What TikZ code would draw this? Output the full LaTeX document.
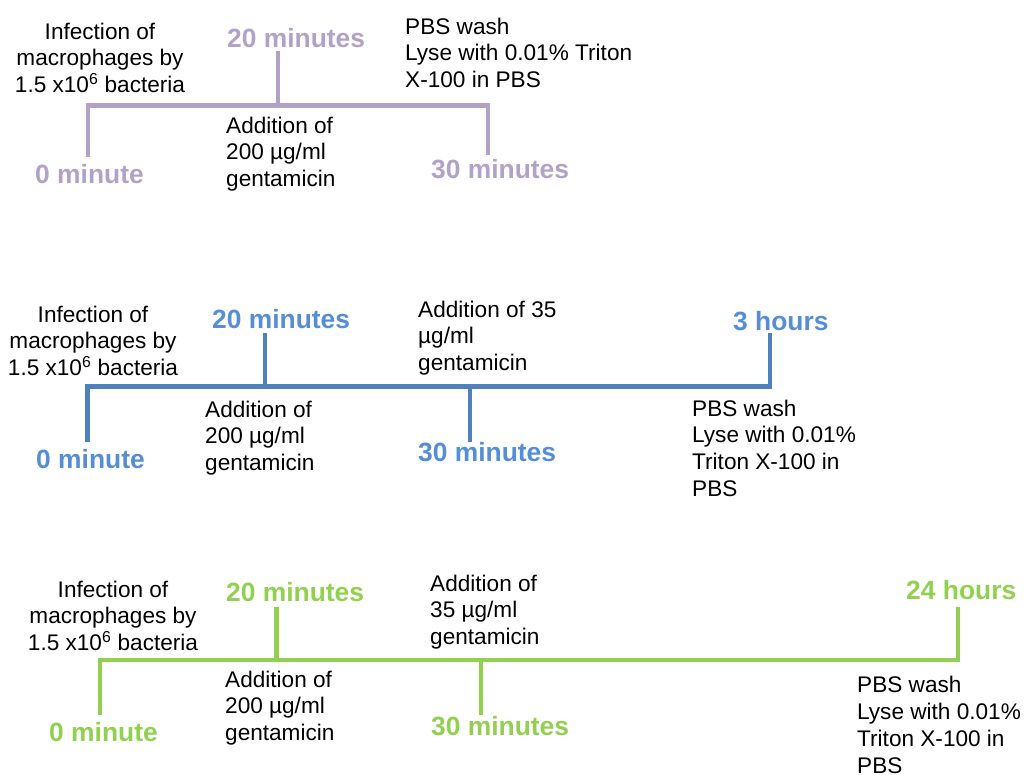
\documentclass[tikz,border=0pt]{standalone}
\usepackage{fontspec}
\setmainfont{Liberation Sans}
\definecolor{purp}{HTML}{B3A2C7}
\definecolor{bluet}{HTML}{558ED5}
\definecolor{bluel}{HTML}{4F81BD}
\definecolor{grn}{HTML}{92D050}
\tikzset{
  note/.style={font=\fontsize{22.6}{26.7}\selectfont, inner sep=0pt, align=left, anchor=base west},
  notec/.style={note, align=center, anchor=base},
  tlab/.style={font=\fontsize{26.4}{30}\selectfont\bfseries, inner sep=0pt, anchor=base west},
  tline/.style={line width=4.2pt, line join=miter}
}
\begin{document}
\begin{tikzpicture}[x=1pt,y=-1pt]
\path[fill=white, use as bounding box] (0,0) rectangle (1025,774);

% ---------- Timeline 1 (purple) ----------
\coordinate (t1a) at (88,157);
\coordinate (t1b) at (88,105.5);
\coordinate (t1c) at (488,105.5);
\coordinate (t1d) at (488,155);
\coordinate (t1m) at (278,51);
\coordinate (t1n) at (278,105.5);
\draw[tline, purp] (t1a) -- (t1b) -- (t1c) -- (t1d);
\draw[tline, purp] (t1m) -- (t1n);
% multi-line notes are placed by the baseline of their last line
\node[notec] (inf1) at (100,92.4) {Infection of\\macrophages by\\1.5 x10\textsuperscript{6} bacteria};
\node[tlab, text=purp] (m20a) at (227,47) {20 minutes};
\node[note] (pbs1) at (405,87.4) {PBS wash\\Lyse with 0.01\% Triton\\X-100 in PBS};
\node[note] (add1) at (226,186.4) {Addition of\\200 µg/ml\\gentamicin};
\node[tlab, text=purp] (m0a) at (35,183) {0 minute};
\node[tlab, text=purp] (m30a) at (431,178) {30 minutes};

% ---------- Timeline 2 (blue) ----------
\coordinate (t2a) at (87.5,442);
\coordinate (t2b) at (87.5,386.5);
\coordinate (t2c) at (770,386.5);
\coordinate (t2d) at (770,333);
\coordinate (t2m) at (265,333);
\coordinate (t2n) at (265,386.5);
\coordinate (t2p) at (470,386.5);
\coordinate (t2q) at (470,442);
\draw[tline, bluel] (t2a) -- (t2b) -- (t2c) -- (t2d);
\draw[tline, bluel] (t2m) -- (t2n);
\draw[tline, bluel] (t2p) -- (t2q);
\node[notec] (inf2) at (93,375.4) {Infection of\\macrophages by\\1.5 x10\textsuperscript{6} bacteria};
\node[tlab, text=bluet] (m20b) at (212,328) {20 minutes};
\node[note] (add35b) at (418,370.4) {Addition of 35\\µg/ml\\gentamicin};
\node[tlab, text=bluet] (h3) at (733,330) {3 hours};
\node[note] (add2) at (205,470.4) {Addition of\\200 µg/ml\\gentamicin};
\node[tlab, text=bluet] (m0b) at (36,468) {0 minute};
\node[tlab, text=bluet] (m30b) at (418,461) {30 minutes};
\node[note] (pbs2) at (692,496.1) {PBS wash\\Lyse with 0.01\%\\Triton X-100 in\\PBS};

% ---------- Timeline 3 (green) ----------
\coordinate (t3a) at (100,715);
\coordinate (t3b) at (100,660);
\coordinate (t3c) at (958,660);
\coordinate (t3d) at (958,607);
\coordinate (t3m) at (276.5,607);
\coordinate (t3n) at (276.5,660);
\coordinate (t3p) at (481,660);
\coordinate (t3q) at (481,715);
\draw[tline, grn] (t3a) -- (t3b) -- (t3c) -- (t3d);
\draw[tline, grn] (t3m) -- (t3n);
\draw[tline, grn] (t3p) -- (t3q);
\node[notec] (inf3) at (113,650.4) {Infection of\\macrophages by\\1.5 x10\textsuperscript{6} bacteria};
\node[tlab, text=grn] (m20c) at (226,601) {20 minutes};
\node[note] (add35c) at (430,644.4) {Addition of\\35 µg/ml\\gentamicin};
\node[tlab, text=grn] (h24) at (906,599) {24 hours};
\node[note] (add3) at (225,740.4) {Addition of\\200 µg/ml\\gentamicin};
\node[tlab, text=grn] (m0c) at (49,741) {0 minute};
\node[tlab, text=grn] (m30c) at (431,735) {30 minutes};
\node[note] (pbs3) at (857,773) {PBS wash\\Lyse with 0.01\%\\Triton X-100 in\\PBS};
\end{tikzpicture}
\end{document}
